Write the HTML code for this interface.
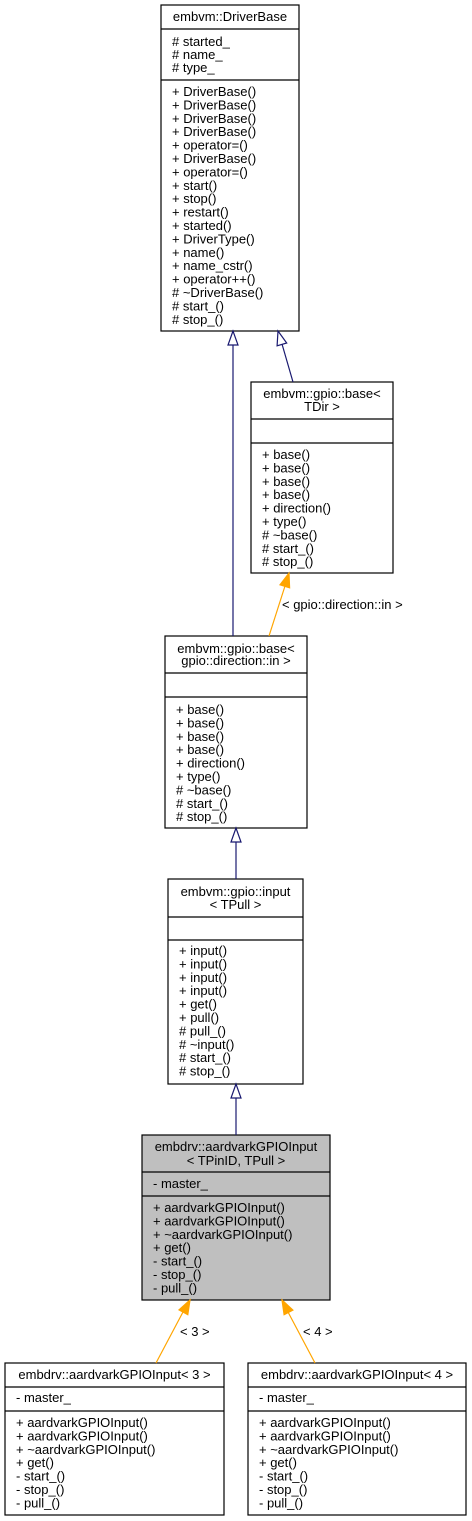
<!DOCTYPE html>
<html><head><meta charset="utf-8"><style>
html,body{margin:0;padding:0;background:#fff;}
svg{display:block;}
text{font-family:"Liberation Sans",Helvetica,Arial,sans-serif;font-size:13px;fill:#000;}
.c{text-anchor:middle;}
</style></head><body>
<svg width="472" height="1521" viewBox="0 0 472 1521" xmlns="http://www.w3.org/2000/svg">
<g stroke="#000" stroke-width="1.2" fill="#fff">
<rect x="161" y="5" width="138" height="326"/>
<line x1="161" y1="29" x2="299" y2="29"/><line x1="161" y1="80" x2="299" y2="80"/>
<rect x="251" y="382" width="142" height="191"/>
<line x1="251" y1="419" x2="393" y2="419"/><line x1="251" y1="443" x2="393" y2="443"/>
<rect x="165" y="636" width="142" height="192"/>
<line x1="165" y1="673" x2="307" y2="673"/><line x1="165" y1="697" x2="307" y2="697"/>
<rect x="168" y="879" width="135" height="205"/>
<line x1="168" y1="917" x2="303" y2="917"/><line x1="168" y1="940" x2="303" y2="940"/>
<rect x="142" y="1135" width="188" height="165" fill="#bfbfbf"/>
<line x1="142" y1="1172" x2="330" y2="1172"/><line x1="142" y1="1196" x2="330" y2="1196"/>
<rect x="5" y="1363" width="219" height="152"/>
<line x1="5" y1="1387" x2="224" y2="1387"/><line x1="5" y1="1411" x2="224" y2="1411"/>
<rect x="248" y="1363" width="218" height="152"/>
<line x1="248" y1="1387" x2="466" y2="1387"/><line x1="248" y1="1411" x2="466" y2="1411"/>
</g>
<g stroke="#191970" stroke-width="1.2" fill="#fff">
<line x1="233" y1="345" x2="233" y2="636"/><polygon points="233,331 228,345 238,345"/>
<line x1="293" y1="382" x2="282" y2="344"/><polygon points="278,331 286.7,343 277.1,345.8"/>
<line x1="236" y1="842" x2="236" y2="879"/><polygon points="236,828 231,842 241,842"/>
<line x1="236" y1="1098" x2="236" y2="1135"/><polygon points="236,1084 231,1098 241,1098"/>
</g>
<g stroke="#ffa500" stroke-width="1.2" fill="#ffa500">
<line x1="269" y1="636" x2="285" y2="586"/><polygon points="289,573 289.6,587.8 280,584.8"/>
<line x1="156" y1="1363" x2="183" y2="1312"/><polygon points="190,1300 187.8,1314.7 179,1309.9"/>
<line x1="315" y1="1363" x2="288" y2="1312"/><polygon points="282,1300 292.9,1310.1 284.1,1314.7"/>
</g>
<text x="282" y="609">&lt; gpio::direction::in &gt;</text>
<text x="180" y="1336">&lt; 3 &gt;</text>
<text x="303" y="1336">&lt; 4 &gt;</text>

<text class="c" x="230" y="21">embvm::DriverBase</text>
<text x="172" y="46"># started_</text><text x="172" y="59"># name_</text><text x="172" y="72"># type_</text>
<g>
<text x="172" y="96">+ DriverBase()</text>
<text x="172" y="109.4">+ DriverBase()</text>
<text x="172" y="122.8">+ DriverBase()</text>
<text x="172" y="136.2">+ DriverBase()</text>
<text x="172" y="149.6">+ operator=()</text>
<text x="172" y="163">+ DriverBase()</text>
<text x="172" y="176.4">+ operator=()</text>
<text x="172" y="189.8">+ start()</text>
<text x="172" y="203.2">+ stop()</text>
<text x="172" y="216.6">+ restart()</text>
<text x="172" y="230">+ started()</text>
<text x="172" y="243.4">+ DriverType()</text>
<text x="172" y="256.8">+ name()</text>
<text x="172" y="270.2">+ name_cstr()</text>
<text x="172" y="283.6">+ operator++()</text>
<text x="172" y="297"># ~DriverBase()</text>
<text x="172" y="310.4"># start_()</text>
<text x="172" y="323.8"># stop_()</text>
</g>

<text class="c" x="322" y="398">embvm::gpio::base&lt;</text>
<text class="c" x="322" y="411">TDir &gt;</text>
<text x="262" y="459">+ base()</text>
<text x="262" y="472.4">+ base()</text>
<text x="262" y="485.8">+ base()</text>
<text x="262" y="499.2">+ base()</text>
<text x="262" y="512.6">+ direction()</text>
<text x="262" y="526">+ type()</text>
<text x="262" y="539.4"># ~base()</text>
<text x="262" y="552.8"># start_()</text>
<text x="262" y="566.2"># stop_()</text>

<text class="c" x="236" y="653">embvm::gpio::base&lt;</text>
<text class="c" x="236" y="665">gpio::direction::in &gt;</text>
<text x="176" y="714">+ base()</text>
<text x="176" y="727.4">+ base()</text>
<text x="176" y="740.8">+ base()</text>
<text x="176" y="754.2">+ base()</text>
<text x="176" y="767.6">+ direction()</text>
<text x="176" y="781">+ type()</text>
<text x="176" y="794.4"># ~base()</text>
<text x="176" y="807.8"># start_()</text>
<text x="176" y="821.2"># stop_()</text>

<text class="c" x="235.5" y="896">embvm::gpio::input</text>
<text class="c" x="235.5" y="909">&lt; TPull &gt;</text>
<text x="179" y="955">+ input()</text>
<text x="179" y="968.4">+ input()</text>
<text x="179" y="981.8">+ input()</text>
<text x="179" y="995.2">+ input()</text>
<text x="179" y="1008.6">+ get()</text>
<text x="179" y="1022">+ pull()</text>
<text x="179" y="1035.4"># pull_()</text>
<text x="179" y="1048.8"># ~input()</text>
<text x="179" y="1062.2"># start_()</text>
<text x="179" y="1075.6"># stop_()</text>

<text class="c" x="236" y="1151">embdrv::aardvarkGPIOInput</text>
<text class="c" x="236" y="1165">&lt; TPinID, TPull &gt;</text>
<text x="153" y="1188">- master_</text>
<text x="153" y="1212">+ aardvarkGPIOInput()</text>
<text x="153" y="1225.4">+ aardvarkGPIOInput()</text>
<text x="153" y="1238.8">+ ~aardvarkGPIOInput()</text>
<text x="153" y="1252.2">+ get()</text>
<text x="153" y="1265.6">- start_()</text>
<text x="153" y="1279">- stop_()</text>
<text x="153" y="1292.4">- pull_()</text>

<text class="c" x="114.5" y="1379">embdrv::aardvarkGPIOInput&lt; 3 &gt;</text>
<text x="16" y="1402">- master_</text>
<text x="16" y="1427">+ aardvarkGPIOInput()</text>
<text x="16" y="1440.4">+ aardvarkGPIOInput()</text>
<text x="16" y="1453.8">+ ~aardvarkGPIOInput()</text>
<text x="16" y="1467.2">+ get()</text>
<text x="16" y="1480.6">- start_()</text>
<text x="16" y="1494">- stop_()</text>
<text x="16" y="1507.4">- pull_()</text>

<text class="c" x="357" y="1379">embdrv::aardvarkGPIOInput&lt; 4 &gt;</text>
<text x="259" y="1402">- master_</text>
<text x="259" y="1427">+ aardvarkGPIOInput()</text>
<text x="259" y="1440.4">+ aardvarkGPIOInput()</text>
<text x="259" y="1453.8">+ ~aardvarkGPIOInput()</text>
<text x="259" y="1467.2">+ get()</text>
<text x="259" y="1480.6">- start_()</text>
<text x="259" y="1494">- stop_()</text>
<text x="259" y="1507.4">- pull_()</text>
</svg>
</body></html>
